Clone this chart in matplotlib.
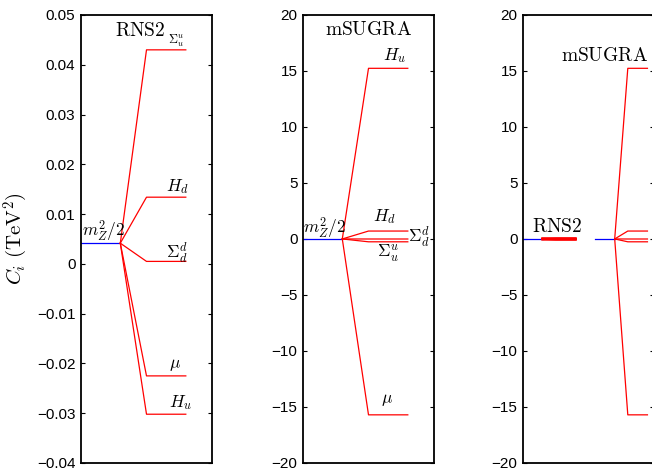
import matplotlib
matplotlib.use("Agg")
from matplotlib import pyplot as plt
from matplotlib.ticker import FuncFormatter
import numpy as np

plt.rcParams['mathtext.fontset'] = 'cm'
plt.rcParams['font.family'] = ['Liberation Sans', 'DejaVu Sans']

# contributions C_i in TeV^2
mz2_half = 0.00416
rns2_names = [r'$\Sigma_u^u$', r'$H_d$', r'$\Sigma_d^d$', r'$\mu$', r'$H_u$']
rns2_vals = [0.0430, 0.0134, 0.0005, -0.0225, -0.0302]
msugra_names = [r'$H_u$', r'$H_d$', r'$\Sigma_d^d$', r'$\Sigma_u^u$', r'$\mu$']
msugra_vals = [15.24, 0.71, 0.0, -0.25, -15.7]

# label placement (x, y, fontsize, ha) for each contribution
rns2_lab = [(7.3, 0.0448, 9, 'center'), (7.35, 0.0155, 12.5, 'center'),
            (7.3, 0.0022, 12.5, 'center'), (7.2, -0.0203, 12.5, 'center'),
            (7.6, -0.0279, 12.5, 'center')]
msugra_lab = [(7.0, 16.4, 12.5, 'center'), (6.2, 2.0, 12.5, 'center'),
              (8.05, 0.2, 12.5, 'left'), (6.45, -1.28, 12.5, 'center'),
              (6.4, -14.4, 12.5, 'center')]

W, H = 652, 472


def fmt(v, pos):
    s = '%g' % round(v, 6)
    return s.replace('-', '\u2212')


def fan(ax, vals, x0=0.0, lw=0.9, red_lw=0.9):
    ax.plot([x0, x0 + 3], [mz2_half, mz2_half], color='blue', lw=lw)
    for v in vals:
        ax.plot([x0 + 3, x0 + 5, x0 + 8], [mz2_half, v, v], color='red', lw=red_lw)


def style(ax, ylim, ticks):
    ax.set_ylim(*ylim)
    ax.set_yticks(ticks)
    ax.yaxis.set_major_formatter(FuncFormatter(fmt))
    ax.set_xticks([])
    ax.tick_params(axis='y', direction='in', length=3, width=0.8,
                   right=True, labelsize=11, pad=4)
    for s in ax.spines.values():
        s.set_linewidth(1.3)


fig = plt.figure(figsize=(W / 100, H / 100), dpi=100)
bottom = 9 / H
height = 448 / H
width = 131 / W

ax1 = fig.add_axes([81 / W, bottom, width, height])
fan(ax1, rns2_vals)
ax1.set_xlim(0, 10)
style(ax1, (-0.04, 0.05), np.arange(-0.04, 0.0501, 0.01))
ax1.text(4.5, 0.0468, r'$\mathrm{RNS2}$', ha='center', va='center', fontsize=14)
ax1.text(0.1, 0.0066, r'$m_Z^2/2$', ha='left', va='center', fontsize=12.5)
for name, (x, y, fs, ha) in zip(rns2_names, rns2_lab):
    ax1.text(x, y, name, ha=ha, va='center', fontsize=fs)
ax1.set_ylabel(r'$C_i\ (\mathrm{TeV}^2)$', fontsize=15, labelpad=5)

ax2 = fig.add_axes([303 / W, bottom, width, height])
fan(ax2, msugra_vals)
ax2.set_xlim(0, 10)
style(ax2, (-20, 20), np.arange(-20, 21, 5))
ax2.text(5.0, 18.7, r'$\mathrm{mSUGRA}$', ha='center', va='center', fontsize=14)
ax2.text(0.02, 0.98, r'$m_Z^2/2$', ha='left', va='center', fontsize=12.5)
for name, (x, y, fs, ha) in zip(msugra_names, msugra_lab):
    ax2.text(x, y, name, ha=ha, va='center', fontsize=fs)

# both models on one common scale
ax3 = fig.add_axes([523 / W, bottom, width, height])
fan(ax3, rns2_vals, x0=0.0, red_lw=1.8)
fan(ax3, msugra_vals, x0=11.0)
ax3.set_xlim(0, 20)
style(ax3, (-20, 20), np.arange(-20, 21, 5))
ax3.text(5.3, 1.1, r'$\mathrm{RNS2}$', ha='center', va='center', fontsize=14)
ax3.text(12.4, 16.3, r'$\mathrm{mSUGRA}$', ha='center', va='center', fontsize=14)

fig.savefig('out.png', dpi=100)
